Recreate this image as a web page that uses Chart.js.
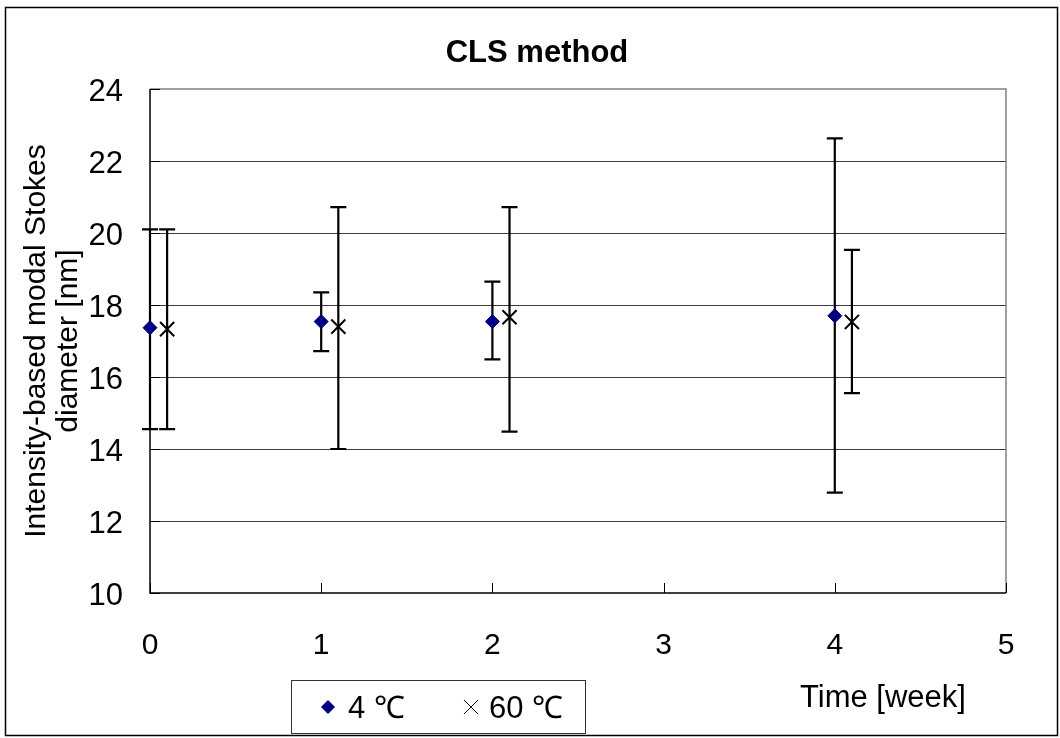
<!DOCTYPE html>
<html>
<head>
<meta charset="utf-8">
<script src="https://cdn.jsdelivr.net/npm/chart.js@4.4.1/dist/chart.umd.min.js"></script>
<style>
    body { margin: 0; background: #fff; }
    canvas { display: block; }
</style>
</head>
<body>
<canvas id="clsChart" width="1060" height="738"></canvas>
<script>
// sampling times in weeks; the 60 °C series is nudged right so the bars don't overlap
const weeks4 = [0, 1, 2, 4];
const weeks60 = [0.1, 1.1, 2.1, 4.1];

// modal diameter (nm) with lower / upper ends of the error bars
const mean4 = [17.37, 17.54, 17.54, 17.7];
const low4 = [14.55, 16.72, 16.49, 12.79];
const high4 = [20.1, 18.35, 18.65, 22.63];

const mean60 = [17.33, 17.4, 17.66, 17.53];
const low60 = [14.55, 14.0, 14.48, 15.55];
const high60 = [20.1, 20.72, 20.72, 19.53];

const xTicks = [0, 1, 2, 3, 4, 5];
const yTicks = [10, 12, 14, 16, 18, 20, 22, 24];

const FONT = '"Liberation Sans", Arial, sans-serif';

function toPoints(xs, ys) {
    return xs.map((x, i) => ({ x: x, y: ys[i] }));
}

const decor = {
    id: 'decor',
    beforeDraw(chart) {
        const ctx = chart.ctx;
        ctx.save();
        ctx.fillStyle = '#fff';
        ctx.fillRect(0, 0, chart.width, chart.height);
        ctx.strokeStyle = '#000';
        ctx.lineWidth = 1.5;
        ctx.strokeRect(5.5, 7.5, 1052, 728);
        ctx.restore();
    },
    beforeDatasetsDraw(chart) {
        const ctx = chart.ctx;
        const { left, right, top, bottom } = chart.chartArea;
        const xs = chart.scales.x;
        const ys = chart.scales.y;
        ctx.save();

        // grey frame on top and right, black axes on left and bottom
        ctx.lineWidth = 1.5;
        ctx.strokeStyle = '#808080';
        ctx.beginPath();
        ctx.moveTo(left, top);
        ctx.lineTo(right, top);
        ctx.lineTo(right, bottom);
        ctx.stroke();
        ctx.strokeStyle = '#000';
        ctx.beginPath();
        ctx.moveTo(left, top);
        ctx.lineTo(left, bottom);
        ctx.lineTo(right, bottom);
        ctx.stroke();

        // major ticks point inward
        ctx.lineWidth = 1;
        ctx.beginPath();
        yTicks.forEach(v => {
            const py = Math.round(ys.getPixelForValue(v)) + 0.5;
            ctx.moveTo(left, py);
            ctx.lineTo(left + 10, py);
        });
        xTicks.forEach(v => {
            const px = Math.round(xs.getPixelForValue(v)) + 0.5;
            ctx.moveTo(px, bottom);
            ctx.lineTo(px, bottom - 10);
        });
        ctx.stroke();

        // error bars
        ctx.lineWidth = 2.2;
        ctx.strokeStyle = '#000';
        chart.data.datasets.forEach(ds => {
            ds.data.forEach((p, i) => {
                const px = xs.getPixelForValue(p.x);
                const pLow = ys.getPixelForValue(ds.lows[i]);
                const pHigh = ys.getPixelForValue(ds.highs[i]);
                ctx.beginPath();
                ctx.moveTo(px, pLow);
                ctx.lineTo(px, pHigh);
                ctx.moveTo(px - 8, pLow);
                ctx.lineTo(px + 8, pLow);
                ctx.moveTo(px - 8, pHigh);
                ctx.lineTo(px + 8, pHigh);
                ctx.stroke();
            });
        });
        ctx.restore();
    },
    afterDraw(chart) {
        const ctx = chart.ctx;
        ctx.save();
        ctx.fillStyle = '#000';
        ctx.textBaseline = 'alphabetic';

        ctx.font = 'bold 31px ' + FONT;
        ctx.textAlign = 'center';
        ctx.fillText('CLS method', 537, 62);

        ctx.font = '31px ' + FONT;
        ctx.textAlign = 'left';
        ctx.fillText('Time [week]', 800, 707);

        // legend box
        ctx.strokeStyle = '#333';
        ctx.lineWidth = 1;
        ctx.strokeRect(291.5, 680.5, 294, 53);
        ctx.font = '31px ' + FONT;
        const spots = [[328, 348], [471, 489]];
        chart.data.datasets.forEach((ds, i) => {
            const [mx, tx] = spots[i];
            ctx.fillStyle = ds.backgroundColor;
            ctx.strokeStyle = ds.borderColor;
            Chart.helpers.drawPoint(ctx, {
                pointStyle: ds.pointStyle,
                radius: ds.pointStyle === 'crossRot' ? 10 : 6.5,
                rotation: 0,
                borderWidth: ds.pointBorderWidth
            }, mx, 707);
            ctx.fillStyle = '#000';
            ctx.fillText(ds.label, tx, 718);
        });
        ctx.restore();
    }
};

new Chart(document.getElementById('clsChart'), {
    type: 'scatter',
    data: {
        datasets: [
            {
                label: '4 \u2103',
                data: toPoints(weeks4, mean4),
                lows: low4,
                highs: high4,
                pointStyle: 'rectRot',
                pointRadius: 7,
                pointBorderWidth: 1,
                backgroundColor: '#000080',
                borderColor: '#000080',
                clip: false
            },
            {
                label: '60 \u2103',
                data: toPoints(weeks60, mean60),
                lows: low60,
                highs: high60,
                pointStyle: 'crossRot',
                pointRadius: 10,
                pointBorderWidth: 2,
                backgroundColor: '#000',
                borderColor: '#000',
                clip: false
            }
        ]
    },
    options: {
        responsive: false,
        animation: false,
        devicePixelRatio: 1,
        layout: { padding: { left: 0, top: 89, right: 54, bottom: 0 } },
        plugins: {
            legend: { display: false },
            title: { display: false },
            tooltip: { enabled: false }
        },
        scales: {
            x: {
                type: 'linear',
                min: 0,
                max: 5,
                afterFit: s => { s.height = 145; },
                afterBuildTicks: s => { s.ticks = xTicks.map(v => ({ value: v })); },
                grid: { display: false },
                border: { display: false },
                ticks: {
                    color: '#000',
                    padding: 27,
                    font: { family: FONT, size: 30 }
                }
            },
            y: {
                min: 10,
                max: 24,
                afterFit: s => { s.width = 150; },
                afterBuildTicks: s => { s.ticks = yTicks.map(v => ({ value: v })); },
                grid: {
                    drawTicks: false,
                    color: c => (c.tick.value === 10 || c.tick.value === 24) ? 'rgba(0,0,0,0)' : '#3a3a3a',
                    lineWidth: 1
                },
                border: { display: false },
                ticks: {
                    color: '#000',
                    padding: 27,
                    labelOffset: 3,
                    font: { family: FONT, size: 31 }
                },
                title: {
                    display: true,
                    text: ['Intensity-based modal Stokes', 'diameter [nm]'],
                    color: '#000',
                    padding: { top: 21, bottom: 0 },
                    font: { family: FONT, size: 30, lineHeight: 1.05 }
                }
            }
        }
    },
    plugins: [decor]
});
</script>
</body>
</html>
